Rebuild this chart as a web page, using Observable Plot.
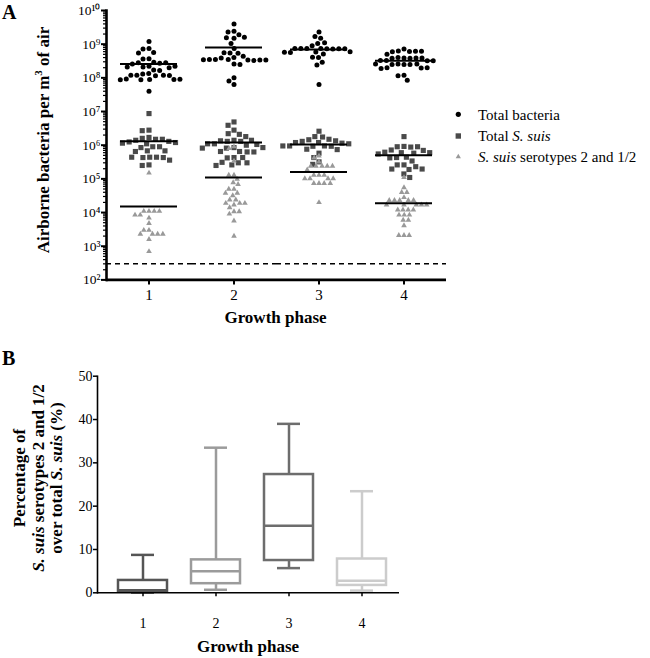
<!DOCTYPE html>
<html>
<head>
<meta charset="utf-8">
<script src="https://cdn.jsdelivr.net/npm/d3@7"></script>
<script src="https://cdn.jsdelivr.net/npm/@observablehq/plot@0.6"></script>
<style>
  html, body { margin: 0; padding: 0; background: #fff; }
  #wrap { position: relative; width: 650px; height: 658px; font-family: "Liberation Serif", "Times New Roman", serif; }
  #a, #b { position: absolute; left: 0; width: 650px; }
  #a { top: 0; height: 330px; }
  #b { top: 340px; height: 318px; }
  #a svg, #b svg { max-width: none !important; display: block; font-family: "Liberation Serif", serif !important; }
</style>
</head>
<body>
<div id="wrap"><div id="a"></div><div id="b"></div></div>
<script>
// ---------------- Data ----------------
const phases = [1, 2, 3, 4];

// Panel A: airborne bacteria per m3 of air (one list per growth phase)
const totalBacteria = [
  [1.2e9, 7.4e8, 7.2e8, 5.7e8, 5.5e8, 3.7e8, 3.6e8, 2.9e8, 2.8e8, 2.7e8, 2.6e8, 2.8e8, 2.2e8, 2.1e8, 2.0e8, 2.1e8, 2.2e8, 1.7e8, 1.65e8, 1.35e8, 1.3e8, 1.2e8, 1.2e8, 1.15e8, 1.2e8, 1.18e8, 9e7, 9.2e7, 8.8e7, 9e7, 8.8e7, 9.1e7, 4e7],
  [4e9, 2.4e9, 2.3e9, 1.9e9, 1.5e9, 1.55e9, 1.6e9, 1.05e9, 7.4e8, 5.5e8, 5.4e8, 5.6e8, 4.4e8, 4e8, 3.9e8, 3.5e8, 3.4e8, 3.5e8, 3.3e8, 3.5e8, 3.4e8, 3.45e8, 3.4e8, 2.6e8, 2.5e8, 1e8, 8e7, 6.3e7],
  [2.3e9, 1.7e9, 1.5e9, 1.05e9, 1.1e9, 9e8, 7.4e8, 7.3e8, 7.4e8, 7.2e8, 7.4e8, 7.3e8, 7.5e8, 7.3e8, 5.9e8, 5.7e8, 6.0e8, 5.8e8, 5.1e8, 4e8, 4.1e8, 2.9e8, 2.4e8, 6.4e7],
  [7.2e8, 6.3e8, 6.1e8, 6.2e8, 6.0e8, 6.2e8, 5e8, 3.9e8, 4.0e8, 3.8e8, 3.9e8, 3.8e8, 3.9e8, 3.3e8, 3.2e8, 3.3e8, 3.2e8, 2.5e8, 2.6e8, 2.5e8, 2.6e8, 2.5e8, 2.6e8, 2.0e8, 1.95e8, 1.9e8, 2.0e8, 1.2e8, 1.15e8, 8.5e7]
];
const totalSuis = [
  [8.7e6, 2.8e6, 2.7e6, 1.7e6, 1.6e6, 1.5e6, 1.5e6, 1.4e6, 1.3e6, 1.25e6, 1.2e6, 1.15e6, 1.1e6, 9e5, 8.5e5, 9e5, 6.8e5, 6.5e5, 6.8e5, 4.4e5, 4.3e5, 4.4e5, 4.3e5, 4.4e5, 3.6e5, 2.6e5, 2.5e5],
  [4.9e6, 3.9e6, 2.8e6, 2.2e6, 2.1e6, 1.8e6, 1.4e6, 1.3e6, 1.35e6, 1.3e6, 1.4e6, 1.1e6, 1.05e6, 1.1e6, 1.0e6, 8.5e5, 8.2e5, 8.5e5, 8.2e5, 6.5e5, 6.3e5, 6.5e5, 6.3e5, 4.3e5, 4.2e5, 4.3e5, 3e5, 3.1e5, 3e5, 2.6e5, 2.5e5],
  [2.6e6, 1.8e6, 1.75e6, 1.5e6, 1.45e6, 1.35e6, 1.3e6, 1.2e6, 1.15e6, 1.2e6, 1.1e6, 9.5e5, 9.3e5, 9.5e5, 9.3e5, 9.5e5, 7.6e5, 7.4e5, 5.8e5, 4.3e5, 3.2e5, 2.7e5],
  [1.8e6, 9.2e5, 9e5, 8.8e5, 9e5, 7.2e5, 7e5, 6.2e5, 6e5, 5.8e5, 6e5, 5.5e5, 4.4e5, 4.3e5, 4.2e5, 3.4e5, 2.6e5, 2.6e5, 2.3e5, 1.96e5, 1.9e5, 1.96e5, 1.4e5, 1.1e5]
];
const serotypes = [
  [1.5e5, 1.1e4, 1.1e4, 1.1e4, 1.1e4, 8.5e3, 8.5e3, 6.9e3, 4.8e3, 3e3, 3e3, 2.3e3, 2.3e3, 2.3e3, 2.3e3, 1.6e3, 7e2],
  [9e5, 8e5, 3.4e5, 1.3e5, 1.3e5, 9.8e4, 7.8e4, 6.9e4, 5e4, 5e4, 3.8e4, 3.8e4, 3.2e4, 2.4e4, 2.4e4, 1.9e4, 1.9e4, 1.9e4, 1.7e4, 1.4e4, 1.07e4, 1.07e4, 9.1e3, 5.7e3, 2e3],
  [4.8e5, 4.2e5, 3.2e5, 2.4e5, 2.4e5, 2.4e5, 2.4e5, 2.4e5, 1.85e5, 1.3e5, 1.3e5, 1.3e5, 1.02e5, 1.02e5, 1.02e5, 1.02e5, 7.4e4, 7.4e4, 7.4e4, 7.4e4, 2e4],
  [1.1e5, 5.5e4, 4e4, 4e4, 2.8e4, 2.3e4, 2.3e4, 2.3e4, 2.3e4, 2.3e4, 1.7e4, 1.7e4, 1.7e4, 1.7e4, 1.7e4, 1.2e4, 1.2e4, 1.2e4, 1.2e4, 8.5e3, 8.5e3, 8.5e3, 6e3, 6e3, 4.1e3, 2.1e3, 2.1e3, 2.1e3]
];
// central tendency lines per phase
const totalBacteriaLine = [2.6e8, 8e8, 7e8, 3.2e8];
const totalSuisLine = [1.3e6, 1.2e6, 1.05e6, 5e5];
const serotypesLine = [1.5e4, 1.1e5, 1.6e5, 1.9e4];
const detectionLimit = 300;

// Panel B: box plot summaries (% serotypes 2 and 1/2 over total S. suis)
const boxMin = [0.05, 0.7, 5.7, 0.5];
const boxQ1 = [0.3, 2.1, 7.45, 1.7];
const boxMedian = [0.6, 5.0, 15.5, 2.8];
const boxQ3 = [2.85, 7.6, 27.3, 7.8];
const boxMax = [8.75, 33.5, 39.0, 23.45];

// ---------------- Styles ----------------
const boxColors = ["#555555", "#9b9b9b", "#6d6d6d", "#cccccc"];
const FONT = "Liberation Serif";

// ---------------- Build tables ----------------
const toRows = (lists) => lists.flatMap((vals, i) => vals.map(v => ({phase: phases[i], value: v})));
const totalRows = toRows(totalBacteria);
const suisRows = toRows(totalSuis);
const seroRows = toRows(serotypes);
const lineRows = [totalBacteriaLine, totalSuisLine, serotypesLine]
  .flatMap(arr => arr.map((v, i) => ({phase: phases[i], value: v})));
const boxRows = phases.map((p, i) => ({phase: p, min: boxMin[i], q1: boxQ1[i], median: boxMedian[i], q3: boxQ3[i], max: boxMax[i]}));

const supDigits = {"0":"\u2070","1":"\u00B9","2":"\u00B2","3":"\u00B3","4":"\u2074","5":"\u2075","6":"\u2076","7":"\u2077","8":"\u2078","9":"\u2079"};
const powFmt = d => "10" + String(Math.round(Math.log10(d))).split("").map(c => supDigits[c]).join("");
const majorTicks = d3.range(2, 11).map(e => 10 ** e);
const minorTicks = d3.range(2, 10).flatMap(e => d3.range(2, 10).map(k => k * 10 ** e));

// ---------------- Panel A ----------------
const plotA = Plot.plot({
  width: 650, height: 330,
  marginLeft: 104, marginRight: 203, marginTop: 10, marginBottom: 50.6,
  style: {fontFamily: FONT, fontSize: "14px", color: "#000", background: "transparent", overflow: "visible"},
  fx: {domain: phases, padding: 0, label: null},
  y: {type: "log", domain: [1e2, 1e10], axis: null, label: null},
  marks: [
    Plot.ruleY([detectionLimit], {stroke: "#000", strokeWidth: 1.5, strokeDasharray: "5,4"}),
    Plot.dot(totalRows, Plot.dodgeX("middle", {fx: "phase", y: "value", r: 2.5, fill: "#000", padding: 0.1})),
    Plot.dot(suisRows, Plot.dodgeX("middle", {fx: "phase", y: "value", r: 2.9, symbol: "square", fill: "#4a4a4a", padding: -0.4})),
    Plot.dot(seroRows, Plot.dodgeX("middle", {fx: "phase", y: "value", r: 2.1, symbol: "triangle", fill: "#999999", padding: 1.2})),
    Plot.ruleY(lineRows, {fx: "phase", y: "value", insetLeft: 14, insetRight: 14, stroke: "#000", strokeWidth: 2}),
    Plot.axisY({ticks: minorTicks, tickSize: 3, tickFormat: () => "", label: null, strokeWidth: 1.2}),
    Plot.axisY({ticks: majorTicks, tickSize: 5, tickPadding: 1, tickFormat: powFmt, label: null, strokeWidth: 2, fontSize: 13.5}),
    Plot.axisFx({anchor: "bottom", tickSize: 5, tickPadding: 4, fontSize: 15, label: null, strokeWidth: 2}),
    Plot.frame({anchor: "left", facetAnchor: "left", stroke: "#000", strokeWidth: 2.6}),
    Plot.ruleY([1e2], {stroke: "#000", strokeWidth: 2.6})
  ]
});
document.getElementById("a").appendChild(plotA);

// titles & legend for panel A
{
  const svg = d3.select(plotA);
  const g = svg.append("g").attr("font-family", FONT).attr("fill", "#000").attr("text-anchor", "start");
  g.append("text").attr("x", 2).attr("y", 19).attr("font-size", 20).attr("font-weight", "bold").text("A");
  const yt = g.append("text").attr("transform", "translate(49,140) rotate(-90)")
    .attr("text-anchor", "middle").attr("font-size", 17).attr("font-weight", "bold");
  yt.append("tspan").text("Airborne bacteria per m");
  yt.append("tspan").attr("dy", -7).attr("font-size", 11).text("3");
  yt.append("tspan").attr("dy", 7).text(" of air");
  g.append("text").attr("x", 275.5).attr("y", 323).attr("text-anchor", "middle")
    .attr("font-size", 17).attr("font-weight", "bold").text("Growth phase");

  // legend
  const lg = g.append("g").attr("text-anchor", "start");
  lg.append("circle").attr("cx", 458.3).attr("cy", 114.3).attr("r", 2.6).attr("fill", "#000");
  lg.append("rect").attr("x", 455.6).attr("y", 133.3).attr("width", 5.4).attr("height", 5.4).attr("fill", "#4a4a4a");
  lg.append("path").attr("d", d3.symbol(d3.symbolTriangle, 12)()).attr("transform", "translate(458.3,156.7)").attr("fill", "#999");
  const t1 = lg.append("text").attr("x", 478).attr("y", 119.5).attr("font-size", 15);
  t1.text("Total bacteria");
  const t2 = lg.append("text").attr("x", 478).attr("y", 141).attr("font-size", 15);
  t2.append("tspan").text("Total ");
  t2.append("tspan").attr("font-style", "italic").text("S. suis");
  const t3 = lg.append("text").attr("x", 478).attr("y", 162).attr("font-size", 15);
  t3.append("tspan").attr("font-style", "italic").text("S. suis");
  t3.append("tspan").text(" serotypes 2 and 1/2");
}

// ---------------- Panel B ----------------
const plotB = Plot.plot({
  width: 650, height: 318,
  marginLeft: 97, marginRight: 251, marginTop: 35.7, marginBottom: 65.7,
  style: {fontFamily: FONT, fontSize: "14px", color: "#000", background: "transparent", overflow: "visible"},
  x: {type: "band", domain: phases, range: [105.3, 398.7], paddingInner: 0.33, paddingOuter: 0.165, axis: null, label: null},
  y: {domain: [0, 50], axis: null, label: null},
  color: {type: "ordinal", domain: phases, range: boxColors},
  marks: [
    Plot.ruleX(boxRows, {x: "phase", y1: "q3", y2: "max", stroke: "phase", strokeWidth: 2.5}),
    Plot.ruleX(boxRows, {x: "phase", y1: "min", y2: "q1", stroke: "phase", strokeWidth: 2.5}),
    Plot.tickY(boxRows, {x: "phase", y: "max", stroke: "phase", strokeWidth: 2.5, insetLeft: 13, insetRight: 13}),
    Plot.tickY(boxRows, {x: "phase", y: "min", stroke: "phase", strokeWidth: 2.5, insetLeft: 13, insetRight: 13}),
    Plot.barY(boxRows, {x: "phase", y1: "q1", y2: "q3", fill: "none", stroke: "phase", strokeWidth: 2.5}),
    Plot.tickY(boxRows, {x: "phase", y: "median", stroke: "phase", strokeWidth: 2.5}),
    Plot.axisY({ticks: [0, 10, 20, 30, 40, 50], tickSize: 4, tickPadding: 1, fontSize: 14, label: null, strokeWidth: 1.5}),
    Plot.axisX({tickSize: 4, tickPadding: 21, fontSize: 14, label: null, strokeWidth: 1.5}),
    Plot.frame({anchor: "left", stroke: "#000", strokeWidth: 1.6}),
    Plot.ruleY([0], {stroke: "#000", strokeWidth: 1.6})
  ]
});
document.getElementById("b").appendChild(plotB);

{
  const svg = d3.select(plotB);
  const g = svg.append("g").attr("font-family", FONT).attr("fill", "#000").attr("text-anchor", "start");
  g.append("text").attr("x", 2).attr("y", 25).attr("font-size", 20).attr("font-weight", "bold").text("B");
  const yt = g.append("text").attr("transform", "translate(0,138) rotate(-90)")
    .attr("text-anchor", "middle").attr("font-size", 17).attr("font-weight", "bold");
  yt.append("tspan").attr("x", 0).attr("y", 25).text("Percentage of");
  const l2 = yt.append("tspan").attr("x", 0).attr("y", 44);
  l2.append("tspan").attr("font-style", "italic").text("S. suis");
  l2.append("tspan").text(" serotypes 2 and 1/2");
  const l3 = yt.append("tspan").attr("x", 0).attr("y", 62);
  l3.append("tspan").text("over total ");
  l3.append("tspan").attr("font-style", "italic").text("S. suis");
  l3.append("tspan").text(" (%)");
  g.append("text").attr("x", 248).attr("y", 312).attr("text-anchor", "middle")
    .attr("font-size", 17).attr("font-weight", "bold").text("Growth phase");
}
</script>
</body>
</html>
